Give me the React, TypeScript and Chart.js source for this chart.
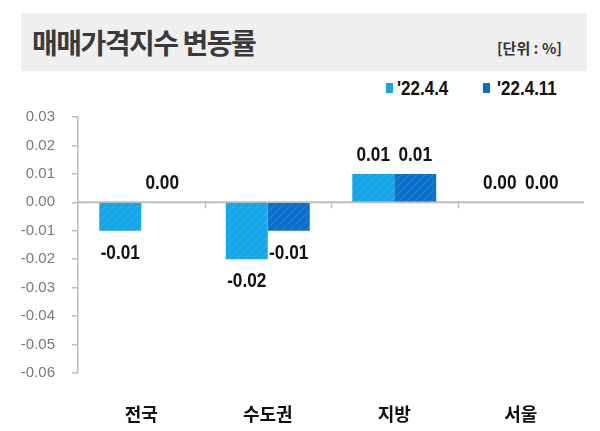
import React, { useEffect, useRef } from "react";
import { Chart, registerables } from "chart.js";

Chart.register(...registerables);

const categories = ["전국", "수도권", "지방", "서울"];
const seriesNames = ["'22.4.4", "'22.4.11"];
const seriesApr4 = [-0.01, -0.02, 0.01, 0.0];
const seriesApr11 = [0.0, -0.01, 0.01, 0.0];
const yMin = -0.06;
const yMax = 0.03;
const yStep = 0.01;

const LIGHT = "#13a5e6";
const DARK = "#0b6ec9";
const SANS = "'Liberation Sans', Arial, sans-serif";

function makePattern(base: string, stripe: string) {
  const c = document.createElement("canvas");
  const s = 8;
  c.width = s;
  c.height = s;
  const g = c.getContext("2d")!;
  g.fillStyle = base;
  g.fillRect(0, 0, s, s);
  g.strokeStyle = stripe;
  g.lineWidth = 1.2;
  g.beginPath();
  g.moveTo(0, s);
  g.lineTo(s, 0);
  g.moveTo(-s / 2, s / 2);
  g.lineTo(s / 2, -s / 2);
  g.moveTo(s / 2, s + s / 2);
  g.lineTo(s + s / 2, s / 2);
  g.stroke();
  return g.createPattern(c, "repeat")!;
}

const fmt = (v: number) => (Math.abs(v) < 1e-9 ? "0.00" : v.toFixed(2));

const zeroLinePlugin = {
  id: "zeroLine",
  beforeDatasetsDraw(chart: any) {
    const { ctx, chartArea, scales } = chart;
    const y0 = scales.y.getPixelForValue(0);
    ctx.save();
    ctx.strokeStyle = "#bdbdbd";
    ctx.lineWidth = 2;
    ctx.beginPath();
    ctx.moveTo(chartArea.left, y0);
    ctx.lineTo(chartArea.right, y0);
    ctx.stroke();
    const n = categories.length;
    const w = (chartArea.right - chartArea.left) / n;
    ctx.lineWidth = 1.5;
    for (let i = 1; i < n; i++) {
      const x = Math.round(chartArea.left + i * w) + 0.5;
      ctx.beginPath();
      ctx.moveTo(x, y0);
      ctx.lineTo(x, y0 + 6);
      ctx.stroke();
    }
    ctx.restore();
  },
};

const LABEL_SQUEEZE = 0.82;

const valueLabelPlugin = {
  id: "valueLabels",
  afterDatasetsDraw(chart: any) {
    const { ctx } = chart;
    chart.data.datasets.forEach((ds: any, di: number) => {
      const meta = chart.getDatasetMeta(di);
      meta.data.forEach((el: any, i: number) => {
        const v = ds.data[i] as number;
        const y = v >= 0 ? el.y - 19 : el.y + 22;
        ctx.save();
        ctx.font = "bold 21px " + SANS;
        ctx.fillStyle = "#111";
        ctx.textAlign = "center";
        ctx.textBaseline = "middle";
        ctx.translate(el.x, y);
        ctx.scale(LABEL_SQUEEZE, 1);
        ctx.fillText(fmt(v), 0, 0);
        ctx.restore();
      });
    });
  },
};

export default function App() {
  const ref = useRef<HTMLCanvasElement>(null);

  useEffect(() => {
    const canvas = ref.current!;
    const chart = new Chart(canvas, {
      type: "bar",
      data: {
        labels: categories,
        datasets: [
          {
            label: seriesNames[0],
            data: seriesApr4,
            backgroundColor: makePattern(LIGHT, "rgba(255,255,255,0.13)"),
            borderWidth: 0,
            categoryPercentage: 0.664,
            barPercentage: 1,
          },
          {
            label: seriesNames[1],
            data: seriesApr11,
            backgroundColor: makePattern(DARK, "rgba(255,255,255,0.13)"),
            borderWidth: 0,
            categoryPercentage: 0.664,
            barPercentage: 1,
          },
        ],
      },
      options: {
        responsive: false,
        animation: false,
        layout: { padding: { top: 117, right: 16, left: 0, bottom: 0 } },
        plugins: {
          legend: { display: false },
          tooltip: { enabled: false },
          title: { display: false },
        },
        scales: {
          x: {
            grid: { display: false },
            border: { display: false },
            ticks: {
              color: "#111",
              padding: 22,
              font: { family: "'Noto Sans CJK KR', sans-serif", size: 18, weight: "bold" },
            },
            afterFit: (s: any) => {
              s.height = 58;
            },
          },
          y: {
            min: yMin,
            max: yMax,
            grid: {
              drawOnChartArea: false,
              color: "#bdbdbd",
              tickLength: 6,
              lineWidth: 1.5,
            },
            border: { display: true, color: "#bdbdbd", width: 1.5 },
            ticks: {
              stepSize: yStep,
              color: "#7a7a7a",
              padding: 17,
              font: { family: SANS, size: 15 },
              callback: (v: any) => fmt(Number(v)),
            },
            afterFit: (s: any) => {
              s.width = 78;
            },
          },
        },
      },
      plugins: [zeroLinePlugin, valueLabelPlugin],
    });
    return () => chart.destroy();
  }, []);

  const legendText: React.CSSProperties = {
    position: "absolute",
    top: 77,
    lineHeight: "22px",
    fontFamily: SANS,
    fontWeight: "bold",
    fontSize: 20,
    color: "#111",
    whiteSpace: "nowrap",
    transform: "scaleX(0.85)",
    transformOrigin: "left center",
  };

  return (
    <div style={{ position: "absolute", left: 0, top: 0, width: 600, height: 431, background: "#fff" }}>
      <div
        style={{
          position: "absolute",
          left: 21,
          top: 13,
          width: 566,
          height: 58,
          background: "#efefef",
        }}
      >
        <div
          style={{
            position: "absolute",
            left: 11,
            top: 12,
            lineHeight: "34px",
            fontFamily: "'Noto Sans CJK KR', sans-serif",
            fontWeight: "bold",
            fontSize: 28,
            letterSpacing: "-1.5px",
            color: "#3a3a3a",
            whiteSpace: "nowrap",
          }}
        >
          매매가격지수 변동률
        </div>
        <div
          style={{
            position: "absolute",
            right: 25,
            top: 24,
            lineHeight: "22px",
            fontFamily: "'Noto Sans CJK KR', sans-serif",
            fontWeight: "bold",
            fontSize: 15,
            color: "#333",
            whiteSpace: "nowrap",
          }}
        >
          [단위 : %]
        </div>
      </div>
      <div style={{ position: "absolute", left: 386, top: 83, width: 7, height: 10, background: LIGHT }} />
      <div style={{ ...legendText, left: 397 }}>{seriesNames[0]}</div>
      <div style={{ position: "absolute", left: 483, top: 83, width: 7, height: 10, background: DARK }} />
      <div style={{ ...legendText, left: 497 }}>{seriesNames[1]}</div>
      <canvas
        ref={ref}
        width={600}
        height={431}
        style={{ position: "absolute", left: 0, top: 0, width: 600, height: 431 }}
      />
    </div>
  );
}
